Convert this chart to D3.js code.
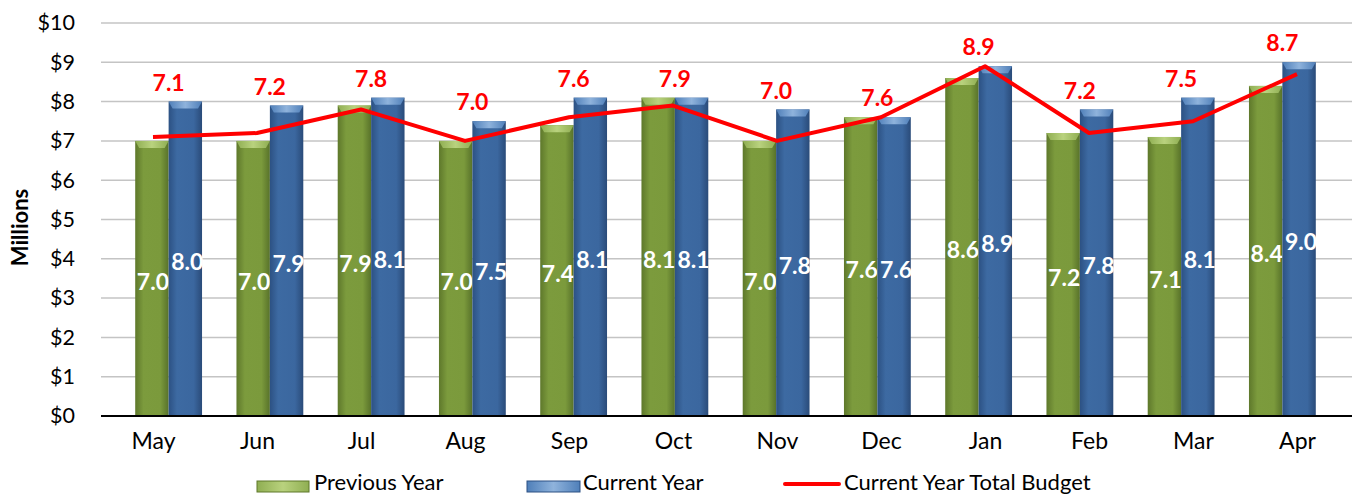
<!DOCTYPE html>
<html>
<head>
<meta charset="utf-8">
<script src="https://cdn.jsdelivr.net/npm/d3@7"></script>
<style>
  body { margin: 0; background: #fff; }
  svg { display: block; font-family: Lato, "Open Sans", sans-serif; }
</style>
</head>
<body>
<div id="chart"></div>
<script>
// data
const months = ["May", "Jun", "Jul", "Aug", "Sep", "Oct", "Nov", "Dec", "Jan", "Feb", "Mar", "Apr"];
const previousYear = [7.0, 7.0, 7.9, 7.0, 7.4, 8.1, 7.0, 7.6, 8.6, 7.2, 7.1, 8.4];
const currentYear = [8.0, 7.9, 8.1, 7.5, 8.1, 8.1, 7.8, 7.6, 8.9, 7.8, 8.1, 9.0];
const budget = [7.1, 7.2, 7.8, 7.0, 7.6, 7.9, 7.0, 7.6, 8.9, 7.2, 7.5, 8.7];
const yTicks = [0, 1, 2, 3, 4, 5, 6, 7, 8, 9, 10];
const legendItems = ["Previous Year", "Current Year", "Current Year Total Budget"];

const width = 1352, height = 495;
const plot = {left: 101, right: 1352, top: 23, bottom: 416};

const svg = d3.select("#chart").append("svg")
    .attr("width", width)
    .attr("height", height);

//gradients for the bars
const defs = svg.append("defs");
function hGrad(id, stops) {
    const g = defs.append("linearGradient").attr("id", id)
        .attr("x1", "0%").attr("x2", "100%").attr("y1", "0%").attr("y2", "0%");
    stops.forEach(s => g.append("stop").attr("offset", s[0]).attr("stop-color", s[1]));
}
hGrad("gGreen", [["0%", "#5e782b"], ["25%", "#7c9b3d"], ["75%", "#7b9a3c"], ["100%", "#58722a"]]);
hGrad("gBlue", [["0%", "#2c5183"], ["25%", "#3d6aa2"], ["75%", "#3b679f"], ["100%", "#2a4b79"]]);
hGrad("gGreenTop", [["0%", "#8fae52"], ["50%", "#b9d27e"], ["100%", "#8fae52"]]);
hGrad("gBlueTop", [["0%", "#4f7fb9"], ["50%", "#8fb3dc"], ["100%", "#4f7fb9"]]);

//scales
const y = d3.scaleLinear().domain([0, 10]).range([plot.bottom, plot.top]);

const x = d3.scaleBand()
    .domain(months)
    .range([118, 1333])
    .paddingInner(0.34)
    .paddingOuter(0.17);

const xSub = d3.scaleBand()
    .domain(["prev", "curr"])
    .range([0, x.bandwidth()]);

// the 3D view spreads the labels and the line a bit wider than the bars
const xLab = d3.scalePoint()
    .domain(months)
    .range([153, 1297]);

//grid lines
svg.append("g")
    .selectAll("line")
    .data(yTicks.filter(d => d > 0))
    .enter()
    .append("line")
    .attr("x1", plot.left)
    .attr("x2", plot.right)
    .attr("y1", d => y(d))
    .attr("y2", d => y(d))
    .attr("stroke", "#c4c4c4")
    .attr("stroke-width", 1.5);

//y axis labels
const yAxis = svg.append("g")
    .attr("transform", `translate(${plot.left},0)`)
    .call(d3.axisLeft(y).tickValues(yTicks).tickFormat(d => "$" + d).tickSize(0).tickPadding(26));
yAxis.select(".domain").remove();
yAxis.selectAll("text")
    .attr("font-size", 21.5)
    .attr("font-family", "Lato, sans-serif")
    .attr("fill", "#000");

svg.append("text")
    .attr("transform", `translate(20, ${(plot.top + plot.bottom) / 2 + 8}) rotate(-90)`)
    .attr("text-anchor", "middle")
    .attr("dy", "0.35em")
    .attr("font-size", 22)
    .attr("font-weight", "bold")
    .text("Millions");

//bars
const rows = months.map((m, i) => ({month: m, prev: previousYear[i], curr: currentYear[i], budget: budget[i]}));

const groups = svg.append("g")
    .selectAll("g")
    .data(rows)
    .enter()
    .append("g")
    .attr("transform", d => `translate(${x(d.month)},0)`);

const barW = xSub.bandwidth();
["prev", "curr"].forEach(function(key) {
    const body = key === "prev" ? "url(#gGreen)" : "url(#gBlue)";
    const cap = key === "prev" ? "url(#gGreenTop)" : "url(#gBlueTop)";

    groups.append("rect")
        .attr("x", xSub(key))
        .attr("y", d => y(d[key]))
        .attr("width", barW)
        .attr("height", d => y(0) - y(d[key]))
        .attr("fill", body);

    groups.append("path")
        .attr("d", function(d) {
            const x0 = xSub(key), t = y(d[key]);
            return `M${x0},${t} L${x0 + barW},${t} L${x0 + barW - 4},${t + 7} L${x0 + 4},${t + 7} Z`;
        })
        .attr("fill", cap);

    groups.append("text")
        .attr("x", xSub(key) + barW / 2 + (key === "prev" ? 1 : 2))
        .attr("y", d => y(d[key] / 2) + 3)
        .attr("dy", "0.35em")
        .attr("text-anchor", "middle")
        .attr("font-size", 23)
        .attr("font-weight", "bold")
        .attr("fill", "#fff")
        .text(d => d3.format(".1f")(d[key]));
});

//baseline
svg.append("line")
    .attr("x1", plot.left)
    .attr("x2", plot.right)
    .attr("y1", y(0))
    .attr("y2", y(0))
    .attr("stroke", "#000")
    .attr("stroke-width", 2);

//budget line
svg.append("path")
    .datum(rows)
    .attr("fill", "none")
    .attr("stroke", "#ff0000")
    .attr("stroke-width", 4)
    .attr("stroke-linejoin", "round")
    .attr("d", d3.line()
        .x(d => xLab(d.month))
        .y(d => y(d.budget)));

svg.append("g")
    .selectAll("text")
    .data(rows)
    .enter()
    .append("text")
    .attr("x", d => x(d.month) + x.bandwidth() / 2)
    .attr("y", d => y(Math.max(d.prev, d.curr)) - 19)
    .attr("dy", "0.35em")
    .attr("text-anchor", "middle")
    .attr("font-size", 23)
    .attr("font-weight", "bold")
    .attr("fill", "#ff0000")
    .text(d => d3.format(".1f")(d.budget));

//x axis labels
const xAxis = svg.append("g")
    .attr("transform", `translate(0,${plot.bottom})`)
    .call(d3.axisBottom(xLab).tickSize(0).tickPadding(17));
xAxis.select(".domain").remove();
xAxis.selectAll("text")
    .attr("font-size", 23)
    .attr("font-family", "Lato, sans-serif")
    .attr("fill", "#000");

//legend
const legend = svg.append("g");
const legX = [257, 527, 785];

legend.append("rect").attr("x", legX[0]).attr("y", 481).attr("width", 52).attr("height", 11)
    .attr("fill", "url(#gGreenTop)").attr("stroke", "#5e782b");
legend.append("rect").attr("x", legX[1]).attr("y", 481).attr("width", 53).attr("height", 11)
    .attr("fill", "url(#gBlueTop)").attr("stroke", "#2c5183");
legend.append("line").attr("x1", legX[2]).attr("x2", legX[2] + 54).attr("y1", 484).attr("y2", 484)
    .attr("stroke", "#ff0000").attr("stroke-width", 4).attr("stroke-linecap", "round");

legend.selectAll("text")
    .data(legendItems)
    .enter()
    .append("text")
    .attr("x", (d, i) => legX[i] + [57, 56, 59][i])
    .attr("y", 490)
    .attr("font-size", 22)
    .attr("fill", "#000")
    .text(d => d);
</script>
</body>
</html>
